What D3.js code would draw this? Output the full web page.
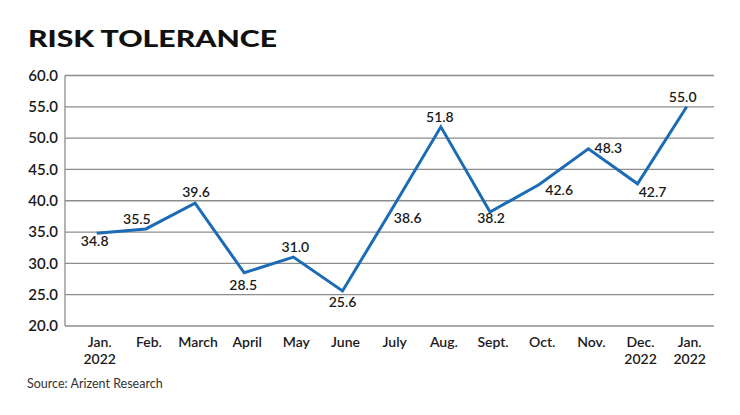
<!DOCTYPE html>
<html>
<head>
<meta charset="utf-8">
<script src="https://cdn.jsdelivr.net/npm/d3@7"></script>
<style>
  html, body { margin: 0; padding: 0; background: #fff; }
  svg { display: block; }
  text { font-family: Lato, "Open Sans", sans-serif; fill: #1a1a1a; }
</style>
</head>
<body>
<svg id="chart" width="740" height="415"></svg>
<script>
// ---- data ----
const categories = ["Jan.\n2022", "Feb.", "March", "April", "May", "June", "July", "Aug.", "Sept.", "Oct.", "Nov.", "Dec.\n2022", "Jan.\n2022"];
const values = [34.8, 35.5, 39.6, 28.5, 31.0, 25.6, 38.6, 51.8, 38.2, 42.6, 48.3, 42.7, 55.0];
const yTicks = [20, 25, 30, 35, 40, 45, 50, 55, 60];
const title = "RISK TOLERANCE";
const source = "Source: Arizent Research";

// ---- label placement (layout, not data) ----
const labelOffsets = [[-2, 8], [-9, -10], [1, -11], [-1, 12], [2, -10], [0, 11], [16, 8], [-1, -10], [1, 6], [20, 5], [20, -1], [15, 8], [-4, -10]];

(function () {
const svg = d3.select("#chart");
const pLeft = 65, pRight = 714, pTop = 75.5, pBottom = 326;

const x = d3.scalePoint().domain(d3.range(categories.length)).range([96.7, 686.7]);
const y = d3.scaleLinear().domain([20, 60]).range([pBottom, pTop]);

// title
svg.append("text").attr("x", 28).attr("y", 47)
  .attr("textLength", 249).attr("lengthAdjust", "spacingAndGlyphs")
  .style("font-size", "23.5px").style("font-weight", 900).style("fill", "#111")
  .text(title);

// gridlines
svg.append("g").selectAll("line").data(yTicks).join("line")
  .attr("x1", pLeft).attr("x2", pRight)
  .attr("y1", d => y(d)).attr("y2", d => y(d))
  .attr("stroke", "#8c8c8c").attr("stroke-width", 1.3);

// left axis line
svg.append("line").attr("x1", pLeft).attr("x2", pLeft).attr("y1", pTop).attr("y2", pBottom)
  .attr("stroke", "#8c8c8c").attr("stroke-width", 1.3);

// y axis tick labels
const yAxis = d3.axisLeft(y).tickValues(yTicks).tickFormat(d3.format(".1f")).tickSize(0).tickPadding(7);
const gy = svg.append("g").attr("transform", `translate(${pLeft},0)`).call(yAxis);
gy.select(".domain").remove();
gy.selectAll("text").style("font-size", "15px").style("font-weight", 600).style("fill", "#1a1a1a").style("font-family", "Lato, sans-serif");

// x axis labels
const xAxis = d3.axisBottom(x).tickSize(0).tickFormat(() => "");
const gx = svg.append("g").attr("transform", `translate(0,${pBottom})`).call(xAxis);
gx.select(".domain").remove();
gx.selectAll(".tick").each(function(d) {
  const t = d3.select(this).append("text")
    .attr("text-anchor", "middle").attr("x", 2.5)
    .style("font-size", "14px").style("font-weight", 600).style("fill", "#1a1a1a").style("font-family", "Lato, sans-serif");
  categories[d].split("\n").forEach((s, i) => {
    t.append("tspan").attr("x", 2.5).attr("y", 20.5 + i * 17).text(s);
  });
});

// line
const line = d3.line().x((d, i) => x(i)).y(d => y(d));
svg.append("path").datum(values)
  .attr("d", line).attr("fill", "none")
  .attr("stroke", "#1b6cb4").attr("stroke-width", 3).attr("stroke-linejoin", "miter");

// value labels
svg.append("g").selectAll("text").data(values).join("text")
  .attr("x", (d, i) => x(i) + labelOffsets[i][0])
  .attr("y", (d, i) => y(d) + labelOffsets[i][1])
  .attr("dy", "0.36em").attr("text-anchor", "middle")
  .style("font-size", "14px").style("font-weight", 600)
  .text(d => d3.format(".1f")(d));

// source
svg.append("text").attr("x", 27).attr("y", 388)
  .style("font-size", "12.5px").style("fill", "#333")
  .text(source);
})();
</script>
</body>
</html>
